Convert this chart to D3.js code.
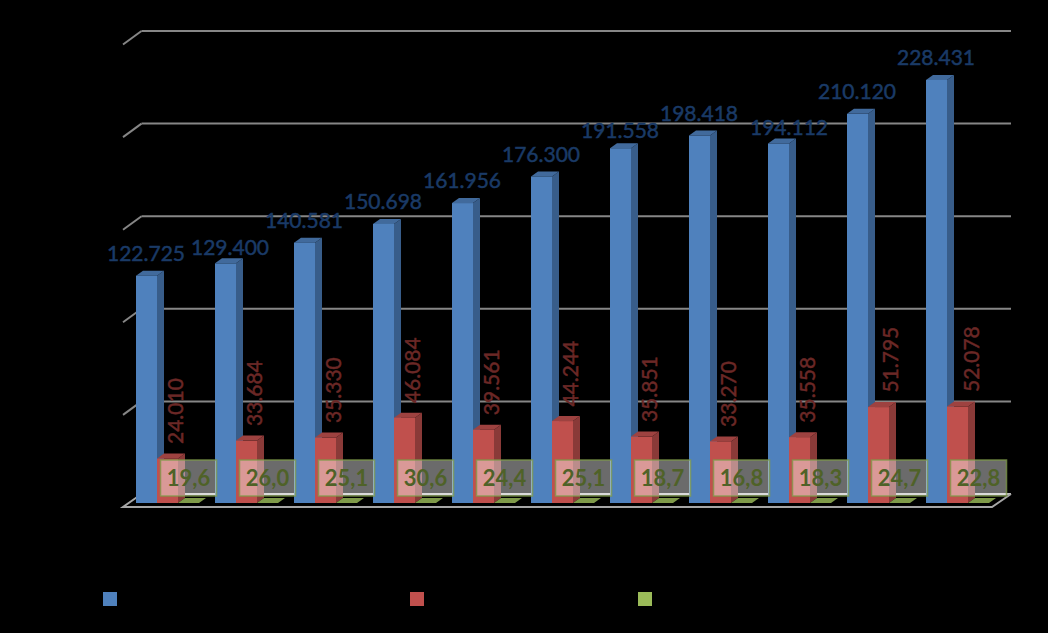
<!DOCTYPE html>
<html><head><meta charset="utf-8">
<script src="https://cdn.jsdelivr.net/npm/d3@7"></script>
<style>html,body{margin:0;background:#000;overflow:hidden}svg{display:block}text{font-family:Lato,sans-serif}</style>
</head><body><svg id="c" width="1048" height="633"></svg>
<script>
const categories = ["1","2","3","4","5","6","7","8","9","10","11"];
const seriesA = [122725,129400,140581,150698,161956,176300,191558,198418,194112,210120,228431];
const seriesB = [24010,33684,35330,46084,39561,44244,35851,33270,35558,51795,52078];
const seriesC = [19.6,26.0,25.1,30.6,24.4,25.1,18.7,16.8,18.3,24.7,22.8];
const axisTicks = [0,50000,100000,150000,200000,250000];
// Hand-placed label offsets seen in the picture
const nudgeAx = [0,5,0,0,0,0,0,0,11,0,0];
const nudgeAy = [0,6,0,0,0,0,4,0,6,0,0];
const nudgeBx = [0,0,0,0,0,0,0,0,0,4,6];

const svg = d3.select("#c");
const W=1048,H=633;
svg.append("rect").attr("width",W).attr("height",H).attr("fill","#000");
const x = d3.scaleBand().domain(categories).range([123,992]);
const inner = d3.scaleBand().domain(["a","b","c"]).range([13,76]);
const y = d3.scaleLinear().domain([0,250000]).range([503,40]);
const dx=7, dy=5, wallX=18.5, wallY=9;
const loc = d3.formatLocale({decimal:",",thousands:".",grouping:[3],currency:["",""]});
const fInt = loc.format(",d"), fDec = loc.format(".1f");

const colors = {
  a:{front:"#4F81BD",side:"#385D8A",top:"#416A9C",label:"#1A3A66"},
  b:{front:"#C0504D",side:"#8A3A38",top:"#9E4240",label:"#6B2826"},
  c:{front:"#9BBB59",side:"#6F8640",top:"#7F9A49",label:"#4F6228"}
};

// wall gridlines
const g = svg.append("g");
axisTicks.forEach(t=>{
  const yy=y(t)-wallY;
  const col=t===0?"#c0c0c0":"#868686";
  if(t>0) g.append("line").attr("x1",123).attr("y1",yy+13.5).attr("x2",141.5).attr("y2",yy).attr("stroke","#868686").attr("stroke-width",2);
  g.append("line").attr("x1",141.5).attr("y1",yy).attr("x2",1011).attr("y2",yy).attr("stroke",col).attr("stroke-width",2);
});
// floor
g.append("path").attr("d",`M141.5,${y(0)-wallY} L123,507 L992,507 L1011,${y(0)-wallY}`)
  .attr("fill","none").attr("stroke","#a6a6a6").attr("stroke-width",2);

function bar(sel,key,val,cat){
  const c=colors[key], x0=x(cat)+inner(key), w=inner.bandwidth(), t=y(val), b=y(0);
  sel.append("path").attr("d",`M${x0+w},${t} L${x0+w+dx},${t-dy} L${x0+w+dx},${b-dy} L${x0+w},${b} Z`).attr("fill",c.side);
  sel.append("path").attr("d",`M${x0},${t} L${x0+dx},${t-dy} L${x0+w+dx},${t-dy} L${x0+w},${t} Z`).attr("fill",c.top);
  sel.append("rect").attr("x",x0).attr("y",t).attr("width",w).attr("height",b-t).attr("fill",c.front);
}
categories.forEach((cat,i)=>{
  const s=svg.append("g");
  bar(s,"a",seriesA[i],cat);
  bar(s,"b",seriesB[i],cat);
  bar(s,"c",seriesC[i],cat);
});

// labels
categories.forEach((cat,i)=>{
  const xa=x(cat)+inner("a")+inner.bandwidth()/2;
  svg.append("text").attr("x",xa+nudgeAx[i]-0.5).attr("y",y(seriesA[i])-20+nudgeAy[i])
    .attr("text-anchor","middle").attr("dominant-baseline","middle")
    .attr("font-size",21).attr("fill",colors.a.label).attr("stroke",colors.a.label).attr("stroke-width",0.5).text(fInt(seriesA[i]));
  const xb=x(cat)+inner("b")+inner.bandwidth()/2+10+nudgeBx[i], yb=y(seriesB[i])-14.5;
  svg.append("text").attr("transform",`translate(${xb},${yb}) rotate(-90)`)
    .attr("dominant-baseline","middle")
    .attr("font-size",21).attr("fill",colors.b.label).attr("stroke",colors.b.label).attr("stroke-width",0.5).text(fInt(seriesB[i]));
  const xc=x(cat)+inner("c")+inner.bandwidth()/2;
  svg.append("rect").attr("x",xc-28).attr("y",y(0)-43).attr("width",56).attr("height",36)
    .attr("fill","rgba(255,255,255,0.42)").attr("stroke","#7d9a48").attr("stroke-opacity",0.75).attr("stroke-width",1.6);
  svg.append("text").attr("x",xc).attr("y",y(0)-23).attr("text-anchor","middle").attr("dominant-baseline","middle")
    .attr("font-size",22).attr("font-weight",700).attr("fill",colors.c.label).text(fDec(seriesC[i]));
});

// legend swatches
[["a",103],["b",410],["c",638]].forEach(([k,lx])=>{
  svg.append("rect").attr("x",lx).attr("y",592).attr("width",14).attr("height",14).attr("fill",colors[k].front);
});
</script></body></html>
